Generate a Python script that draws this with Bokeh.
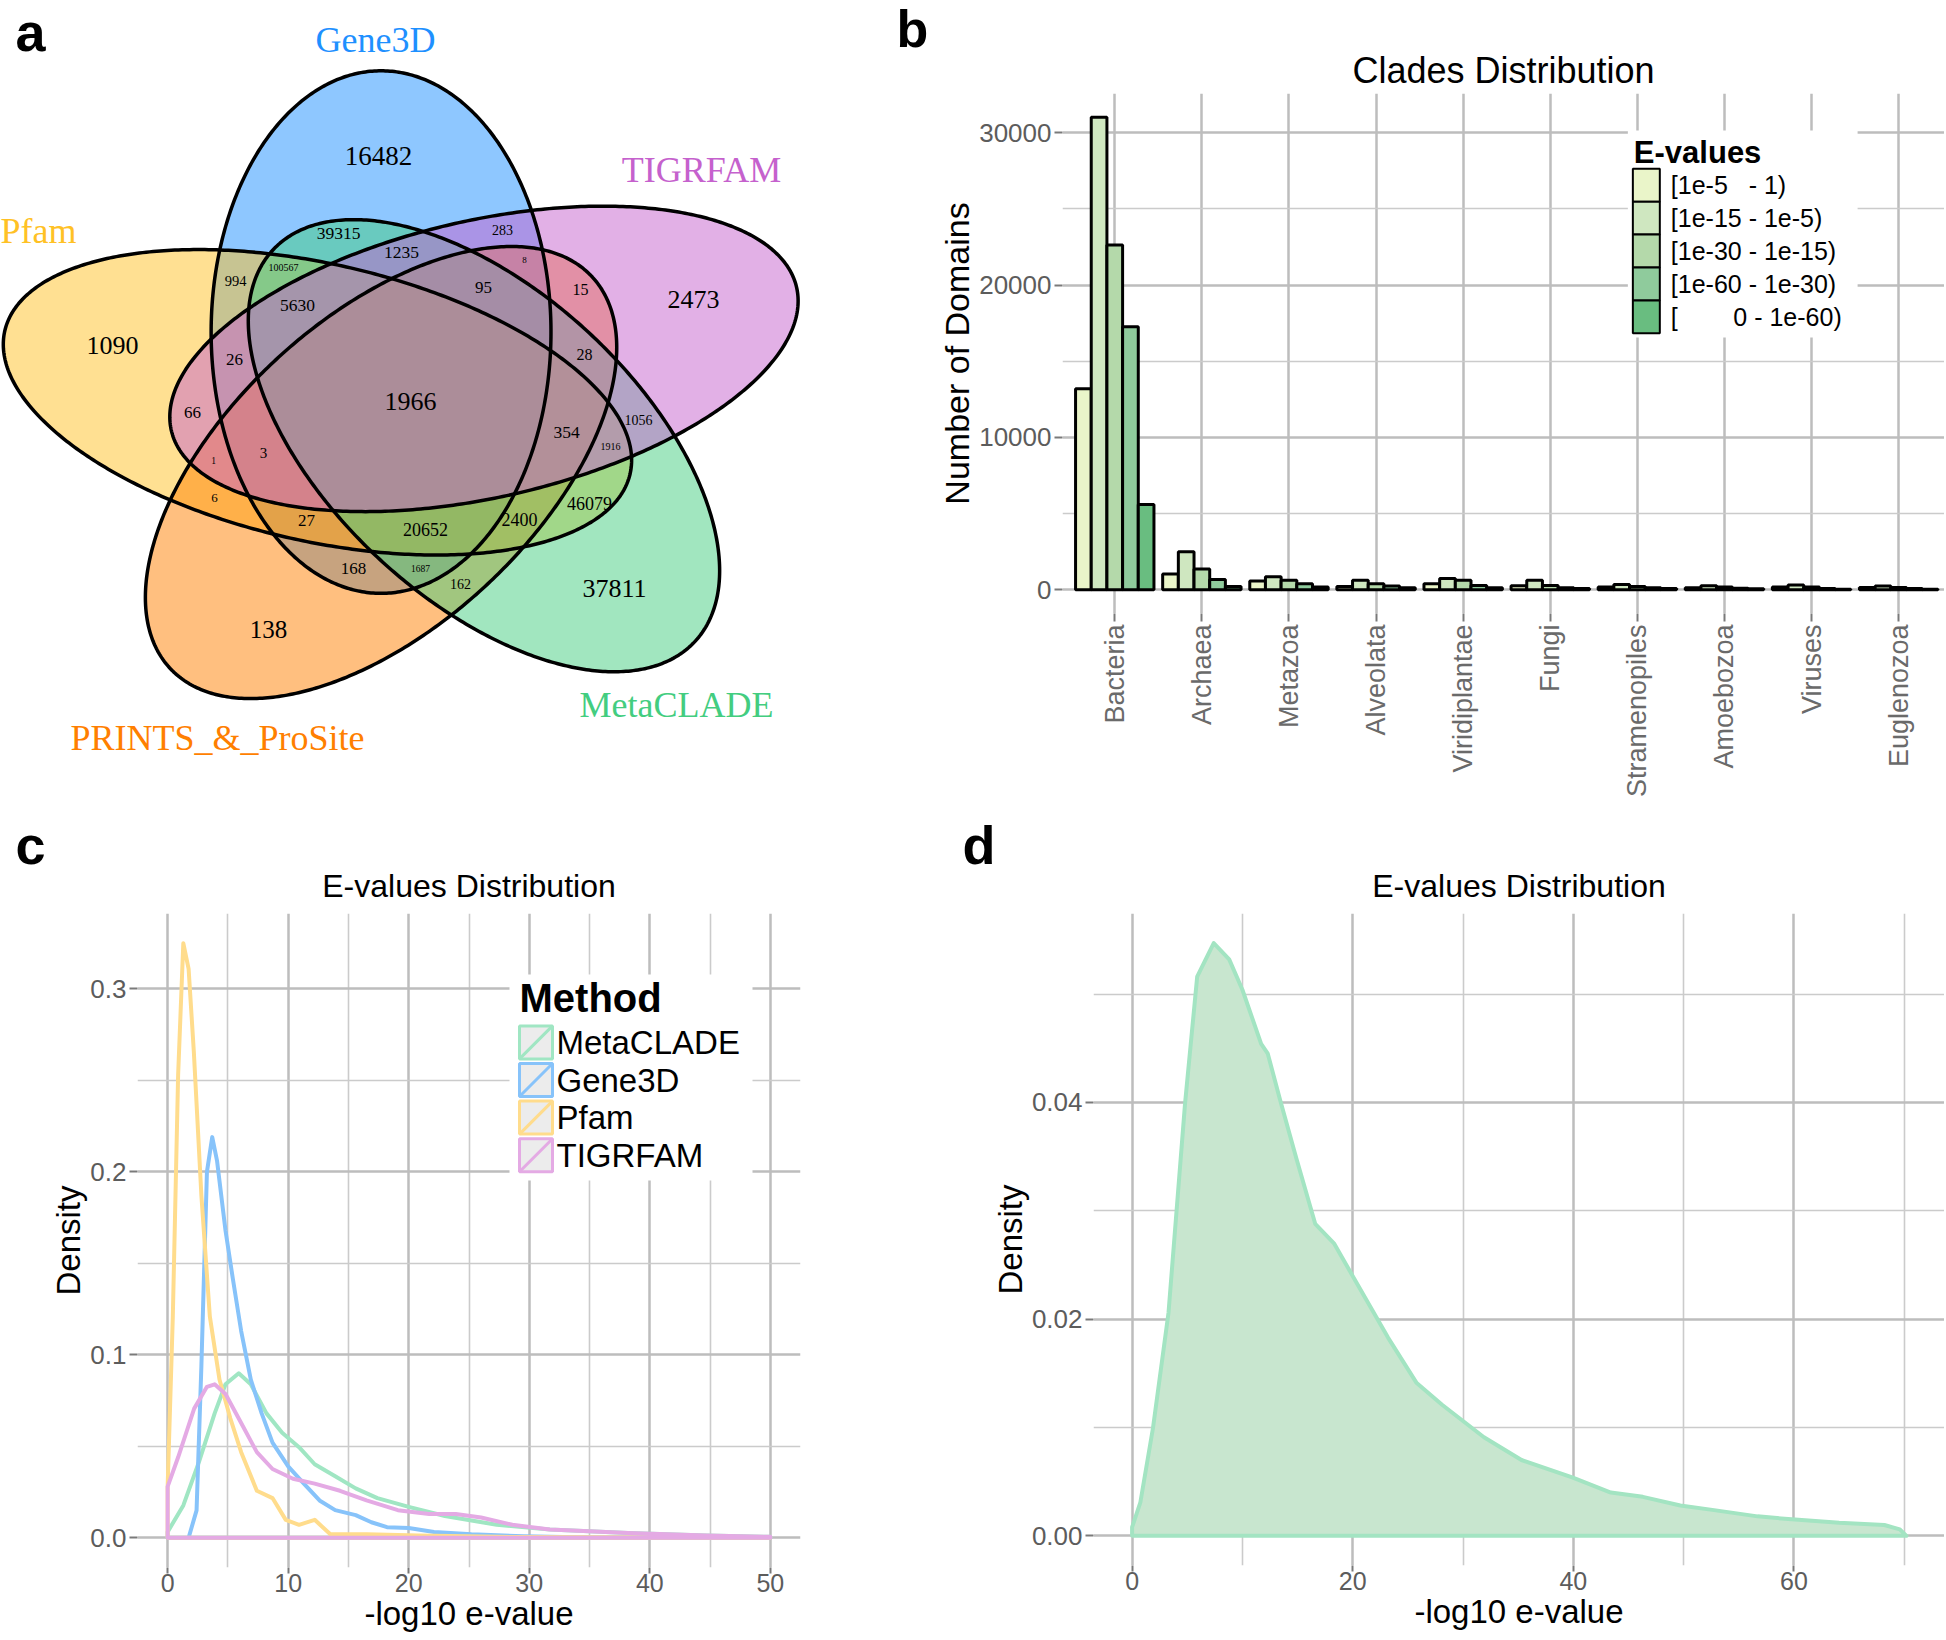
import numpy as np
from bokeh.plotting import figure
from bokeh.layouts import row, column
from bokeh.models import Range1d, FixedTicker, PrintfTickFormatter, ColumnDataSource, Title
from bokeh.core.properties import value
from bokeh.embed import file_html
from bokeh.resources import INLINE

SANS = "Liberation Sans"
SERIF = "Liberation Serif"

# ============================ DATA ============================
# (a) five-set Venn diagram
venn_sets = ["Gene3D", "Pfam", "PRINTS_&_ProSite", "MetaCLADE", "TIGRFAM"]
venn_set_colors = ["#1e90ff", "#ffc125", "#ff7f00", "#43cd80", "#c561cd"]
venn_region_counts = [16482, 2473, 1090, 138, 37811, 1966, 39315, 1235, 283, 8,
                      15, 95, 5630, 994, 100567, 26, 66, 1, 3, 6,
                      27, 168, 1687, 162, 20652, 2400, 46079, 354, 1916, 1056, 28]

# (b) clades distribution
clades = ["Bacteria", "Archaea", "Metazoa", "Alveolata", "Viridiplantae",
          "Fungi", "Stramenopiles", "Amoebozoa", "Viruses", "Euglenozoa"]
evalue_bins = ["[1e-5\u00a0\u00a0\u00a0- 1)", "[1e-15 - 1e-5)", "[1e-30 - 1e-15)",
               "[1e-60 - 1e-30)", "[" + "\u00a0" * 8 + "0 - 1e-60)"]
bin_colors = ["#eaf5c9", "#cfe7c0", "#b4d9aa", "#8fcb9c", "#69bd80"]
domains_1e5_1 = [13195, 1037, 586, 225, 406, 270, 180, 135, 180, 158]
domains_1e15_1e5 = [31015, 2504, 857, 632, 744, 632, 360, 270, 316, 248]
domains_1e30_1e15 = [22624, 1376, 632, 406, 632, 293, 225, 180, 180, 158]
domains_1e60_1e30 = [17256, 677, 406, 248, 293, 135, 135, 113, 90, 90]
domains_0_1e60 = [5594, 225, 180, 135, 135, 90, 90, 68, 45, 45]

# (c) e-value densities per method
method_names = ["MetaCLADE", "Gene3D", "Pfam", "TIGRFAM"]
method_colors = ["#a0e6c3", "#87c3fa", "#ffdc8c", "#e4aae4"]
metaclade_x = [0, 1.3, 2.6, 3.9, 4.8, 5.9, 6.9, 8.2, 9.5, 10.9, 12.2, 13.9, 15.6, 17.4,
               20, 23, 27.3, 31.7, 38.2, 44.7, 50]
metaclade_y = [0.0032, 0.0177, 0.0415, 0.068, 0.0839, 0.0899, 0.0839, 0.068, 0.0574, 0.0495,
               0.0402, 0.0336, 0.027, 0.0217, 0.0169, 0.0119, 0.0071, 0.0045, 0.0026, 0.0013, 0.0005]
gene3d_x = [0, 1.74, 2.4, 2.8, 3.26, 3.7, 4.1, 4.8, 5.4, 6.1, 6.9, 7.8, 8.7, 10.0, 11.3,
            12.6, 13.9, 15.6, 16.9, 18.2, 20.0, 22.1, 25.2, 29.5, 33.9, 50]
gene3d_y = [0, 0, 0.015, 0.094, 0.200, 0.219, 0.206, 0.168, 0.142, 0.113, 0.0865, 0.068,
            0.052, 0.039, 0.0296, 0.0204, 0.0151, 0.0124, 0.0085, 0.0058, 0.0053, 0.0032,
            0.0019, 0.0008, 0.0003, 0]
pfam_x = [0, 0.43, 0.87, 1.3, 1.74, 2.17, 2.8, 3.5, 4.3, 5.2, 6.1, 7.4, 8.7, 9.8, 10.9,
          12.2, 13.5, 16.5, 20.8, 27.3, 50]
pfam_y = [0.028, 0.121, 0.253, 0.325, 0.311, 0.266, 0.187, 0.121, 0.0865, 0.0653, 0.0468,
          0.0257, 0.0217, 0.0098, 0.0071, 0.0098, 0.0019, 0.0019, 0.0013, 0.0005, 0]
tigrfam_x = [0, 0.87, 2.2, 3.26, 3.9, 4.8, 6.1, 7.4, 8.7, 10.4, 12.2, 14.3, 16.5, 19.1,
             21.7, 23.9, 26, 28.6, 31.7, 38.2, 44.7, 50]
tigrfam_y = [0.028, 0.044, 0.0706, 0.0825, 0.0839, 0.0786, 0.0627, 0.0468, 0.0376, 0.0323,
             0.0296, 0.0257, 0.0204, 0.0151, 0.013, 0.013, 0.0111, 0.0071, 0.0045, 0.0026,
             0.0013, 0.0005]

# (d) MetaCLADE e-value density
mc_x = [0, 0.75, 1.9, 3.3, 4.8, 5.9, 7.4, 8.8, 10.0, 11.7, 12.3, 13.4, 14.9, 16.6, 18.3,
        20.1, 23.2, 25.8, 28.1, 31.9, 35.3, 39.9, 43.4, 46.3, 49.7, 52.6, 56.7, 60.1, 64.1,
        68.2, 69.6, 70.2]
mc_y = [0.0008, 0.0031, 0.0100, 0.0206, 0.0399, 0.0516, 0.0547, 0.0532, 0.0504, 0.0454,
        0.0445, 0.0403, 0.0348, 0.0288, 0.0270, 0.0238, 0.0183, 0.0141, 0.0121, 0.0091,
        0.0070, 0.0054, 0.0040, 0.0036, 0.0028, 0.0024, 0.0018, 0.0015, 0.0012, 0.0010,
        0.0006, 0.0]

# ============================ LAYOUT HELPERS ============================
venn_label_layout = [(378, 155, 27), (693, 299, 26), (112, 345, 26), (268, 629, 25), (614, 588, 26),
                     (410, 401, 26), (338, 233, 17.5), (401, 252, 17.5), (502, 229, 14), (524, 259, 9),
                     (580, 289, 16), (483, 287, 17), (297, 305, 17.5), (235, 280, 14.5), (283, 267, 10),
                     (234, 359, 17), (192, 412, 17), (213, 460, 9.5), (263, 452, 15), (214, 497, 13),
                     (306, 520, 17), (353, 568, 17), (420, 568, 9.5), (460, 583, 14), (425, 529, 18),
                     (519, 519, 18), (589, 503, 18), (566, 432, 17.5), (610, 446, 10), (638, 419, 14),
                     (584, 354, 16)]
venn_name_layout = [(375, 39), (38, 230), (217, 737), (676, 704), (701, 169)]

MID = 0.3465  # em-box middle above baseline, in em
ROW1_H = 806
ROW2_H = 832


def mapper(X0, X1, Y0, Y1, xr, yr):
    def fx(X):
        return xr.start + (X - X0) * (xr.end - xr.start) / (X1 - X0)

    def fy(Y):
        return yr.end - (Y - Y0) * (yr.end - yr.start) / (Y1 - Y0)
    return fx, fy


def base_fig(w, h, xr, yr, left, right, top, bottom, **kw):
    p = figure(width=w, height=h, x_range=xr, y_range=yr, output_backend="svg",
               toolbar_location=None, min_border_left=left, min_border_right=right,
               min_border_top=top, min_border_bottom=bottom, **kw)
    p.outline_line_color = None
    p.background_fill_color = "white"
    p.border_fill_color = "white"
    return p


GRID_MAJ = "#bdbdbd"
GRID_MIN = "#cbcbcb"
TICK_C = "#7a7a7a"
LAB_C = "#5c5c5c"


def style_axes(p, xt, xm, yt, ym, lab_size="26px"):
    xtk = FixedTicker(ticks=xt, minor_ticks=xm)
    ytk = FixedTicker(ticks=yt, minor_ticks=ym)
    p.xaxis.ticker = xtk
    p.yaxis.ticker = ytk
    p.xgrid.ticker = xtk
    p.ygrid.ticker = ytk
    for ax in list(p.xaxis) + list(p.yaxis):
        ax.axis_line_color = None
        ax.major_tick_line_color = TICK_C
        ax.major_tick_line_width = 2
        ax.major_tick_in = 0
        ax.major_tick_out = 8
        ax.minor_tick_line_color = None
        ax.major_label_text_font = SANS
        ax.major_label_text_font_size = lab_size
        ax.major_label_text_color = LAB_C
        ax.major_label_standoff = 3
        ax.axis_label_text_font = SANS
        ax.axis_label_text_font_style = "normal"
        ax.axis_label_text_color = "black"
        ax.axis_label_standoff = 0
    for g in list(p.xgrid) + list(p.ygrid):
        g.grid_line_color = GRID_MAJ
        g.grid_line_width = 2.5
        g.minor_grid_line_color = GRID_MIN
        g.minor_grid_line_width = 1.6


def add_titles(p, title, title_size, standoff, letter, letter_size, letter_offset, letter_standoff):
    p.add_layout(Title(text=title, align="center", text_font=SANS, text_font_size=f"{title_size}px",
                       text_font_style="normal", text_color="black", standoff=standoff), "above")
    p.add_layout(Title(text=letter, align="left", offset=letter_offset, text_font=SANS,
                       text_font_size=f"{letter_size}px", text_font_style="bold",
                       text_color="black", standoff=letter_standoff), "above")


# ============================ PANEL A : VENN ============================
pa = base_fig(935, ROW1_H, Range1d(0, 935), Range1d(ROW1_H, 0), 0, 0, 0, 0,
              x_axis_type=None, y_axis_type=None)
SX, SY, CX, CY = 708.0, 568.0, 409.0, 401.8
DIST, A_AX, B_AX = 0.13, 0.46, 0.24
t = np.linspace(0, 2 * np.pi, 480)
exs, eys = [], []
for i in range(len(venn_sets)):
    th = np.radians(108 + 72 * i)
    ph = th - np.radians(18)
    u = DIST * np.cos(th) + A_AX * np.cos(t) * np.cos(ph) - B_AX * np.sin(t) * np.sin(ph)
    v = DIST * np.sin(th) + A_AX * np.cos(t) * np.sin(ph) + B_AX * np.sin(t) * np.cos(ph)
    exs.append(list(CX + SX * u))
    eys.append(list(CY - SY * v))
for i in range(len(venn_sets)):
    pa.patch(exs[i], eys[i], fill_color=venn_set_colors[i], fill_alpha=0.5, line_color=None)
for i in range(len(venn_sets)):
    pa.patch(exs[i], eys[i], fill_color=None, line_color="black", line_width=3.5, line_join="round")

vsrc = ColumnDataSource(dict(
    x=[l[0] for l in venn_label_layout], y=[l[1] for l in venn_label_layout],
    t=[str(c) for c in venn_region_counts], fs=[f"{l[2]}px" for l in venn_label_layout]))
pa.text(x="x", y="y", text="t", source=vsrc, text_font=value(SERIF), text_font_size="fs",
        text_align="center", text_baseline="middle", text_color="black")
nsrc = ColumnDataSource(dict(x=[l[0] for l in venn_name_layout], y=[l[1] for l in venn_name_layout],
                             t=venn_sets, c=venn_set_colors))
pa.text(x="x", y="y", text="t", source=nsrc, text_font=value(SERIF), text_font_size="36px",
        text_align="center", text_baseline="middle", text_color="c")
# panel letters a and b (b sits above panel b, inside this canvas)
pa.text(x=[15], y=[50 - MID * 54], text=["a"], text_font=value(SANS),
        text_font_size="54px", text_font_style="bold", text_align="left", text_baseline="middle",
        text_color="black")
pa.text(x=[896], y=[47 - MID * 52], text=["b"], text_font=value(SANS),
        text_font_size="52px", text_font_style="bold", text_align="left", text_baseline="middle",
        text_color="black")

# ============================ PANEL B : BARS ============================
series_b = [domains_1e5_1, domains_1e15_1e5, domains_1e30_1e15, domains_1e60_1e30, domains_0_1e60]
ymax_b = max(max(s) for s in series_b)
xr_b = Range1d(0.4, 10.526)
yr_b = Range1d(-0.05 * ymax_b, 1.05 * ymax_b)
pb = base_fig(1009, ROW1_H, xr_b, yr_b, 126, 0, 93, ROW1_H - 613)
style_axes(pb, list(range(1, 11)), [], [0, 10000, 20000, 30000], [5000, 15000, 25000], "26px")
pb.xgrid.minor_grid_line_color = None
pb.yaxis.formatter = PrintfTickFormatter(format="%d")
pb.xaxis.major_label_overrides = {i + 1: c for i, c in enumerate(clades)}
pb.xaxis.major_label_orientation = np.pi / 2
pb.xaxis.major_label_text_font_size = "27px"
pb.xaxis.major_label_text_color = "#6a6a6a"
pb.yaxis.axis_label = "Number of Domains"
pb.yaxis.axis_label_text_font_size = "34px"
pb.add_layout(Title(text="Clades Distribution", align="center", text_font=SANS,
                    text_font_size="36px", text_font_style="normal", text_color="black",
                    standoff=5), "above")
idx = np.arange(1, len(clades) + 1)
bw = 0.9 / len(series_b)
for j, vals in enumerate(series_b):
    pb.vbar(x=idx + (j - 2) * bw, top=vals, bottom=0, width=bw, fill_color=bin_colors[j],
            line_color="black", line_width=3)
fxb, fyb = mapper(1061, 1944, 93, 613, xr_b, yr_b)
pb.quad(left=[fxb(1627)], right=[fxb(1857)], top=[fyb(130)], bottom=[fyb(337)],
        fill_color="white", line_color=None)
kt = 168.3
kh = 32.9
pb.quad(left=[fxb(1632)] * 5, right=[fxb(1659)] * 5,
        top=[fyb(kt + kh * j) for j in range(5)], bottom=[fyb(kt + kh * (j + 1)) for j in range(5)],
        fill_color=bin_colors, line_color="black", line_width=2)
pb.text(x=[fxb(1670)] * 5, y=[fyb(kt + kh * (j + 0.5)) for j in range(5)], text=evalue_bins,
        text_font=value(SANS), text_font_size="25px", text_align="left", text_baseline="middle",
        text_color="black")
pb.text(x=[fxb(1633)], y=[fyb(152)], text=["E-values"], text_font=value(SANS),
        text_font_size="31px", text_font_style="bold", text_align="left",
        text_baseline="middle", text_color="black")

# ============================ PANEL C : DENSITIES ============================
cmax = max(max(metaclade_y), max(gene3d_y), max(pfam_y), max(tigrfam_y))
xr_c = Range1d(-2.5, 52.5)
yr_c = Range1d(-0.05 * cmax, 1.05 * cmax)
pc = base_fig(950, ROW2_H, xr_c, yr_c, 137, 150, 913 - ROW1_H, 71)
style_axes(pc, [0, 10, 20, 30, 40, 50], [5, 15, 25, 35, 45], [0, 0.1, 0.2, 0.3], [0.05, 0.15, 0.25])
pc.yaxis.formatter = PrintfTickFormatter(format="%.1f")
pc.xaxis.major_tick_out = 6
pc.xaxis.major_label_standoff = 0
pc.xaxis.major_label_text_font_size = "25px"
pc.xaxis.axis_label = "-log10 e-value"
pc.xaxis.axis_label_text_font_size = "33px"
pc.yaxis.axis_label = "Density"
pc.yaxis.axis_label_text_font_size = "33px"
add_titles(pc, "E-values Distribution", 32, 19, "c", 54, 15 - 137, -36)
curves = [(metaclade_x, metaclade_y), (gene3d_x, gene3d_y), (pfam_x, pfam_y), (tigrfam_x, tigrfam_y)]
for (cx, cy), col in zip(curves, method_colors):
    pc.patch([cx[0]] + cx + [cx[-1]], [0] + cy + [0], fill_color=None, line_color=col,
             line_width=4, line_join="round")
fxc, fyc = mapper(137, 800, 913, 1567, xr_c, yr_c)
pc.quad(left=[fxc(509)], right=[fxc(752)], top=[fyc(974)], bottom=[fyc(1180)],
        fill_color="white", line_color=None)
ct = 1025.4
cp = 37.6
for k, (nm, col) in enumerate(zip(method_names, method_colors)):
    top, bot = ct + cp * k, ct + cp * k + 33
    pc.quad(left=[fxc(519)], right=[fxc(552)], top=[fyc(top)], bottom=[fyc(bot)],
            fill_color="#ececec", line_color=col, line_width=3)
    pc.segment(x0=[fxc(519)], y0=[fyc(bot)], x1=[fxc(552)], y1=[fyc(top)], line_color=col,
               line_width=3)
pc.text(x=[fxc(556)] * 4, y=[fyc(ct + cp * k + 16.5) for k in range(4)], text=method_names,
        text_font=value(SANS), text_font_size="33px", text_align="left", text_baseline="middle",
        text_color="black")
pc.text(x=[fxc(519)], y=[fyc(997)], text=["Method"], text_font=value(SANS), text_font_size="40px",
        text_font_style="bold", text_align="left", text_baseline="middle", text_color="black")

# ============================ PANEL D : METACLADE DENSITY ============================
dmax = max(mc_y)
xr_d = Range1d(-3.5, 73.65)
yr_d = Range1d(-0.05 * dmax, 1.05 * dmax)
pd_ = base_fig(994, ROW2_H, xr_d, yr_d, 143, 0, 913 - ROW1_H, 73)
style_axes(pd_, [0, 20, 40, 60], [10, 30, 50, 70], [0, 0.02, 0.04], [0.01, 0.03, 0.05])
pd_.yaxis.formatter = PrintfTickFormatter(format="%.2f")
pd_.xaxis.major_tick_out = 6
pd_.xaxis.major_label_standoff = 0
pd_.xaxis.major_label_text_font_size = "25px"
pd_.xaxis.axis_label = "-log10 e-value"
pd_.xaxis.axis_label_text_font_size = "33px"
pd_.yaxis.axis_label = "Density"
pd_.yaxis.axis_label_text_font_size = "33px"
add_titles(pd_, "E-values Distribution", 32, 19, "d", 54, 962 - 1093, -36)
pd_.patch([mc_x[0]] + mc_x + [mc_x[-1]], [0] + mc_y + [0], fill_color="#c8e6cf", fill_alpha=1.0,
          line_color="#a3e4c2", line_width=4, line_join="round")

layout = column(row(column(pa), column(pb)), row(column(pc), column(pd_)))
open("out.html", "w").write(file_html(layout, INLINE, title="MetaCLADE figure"))
